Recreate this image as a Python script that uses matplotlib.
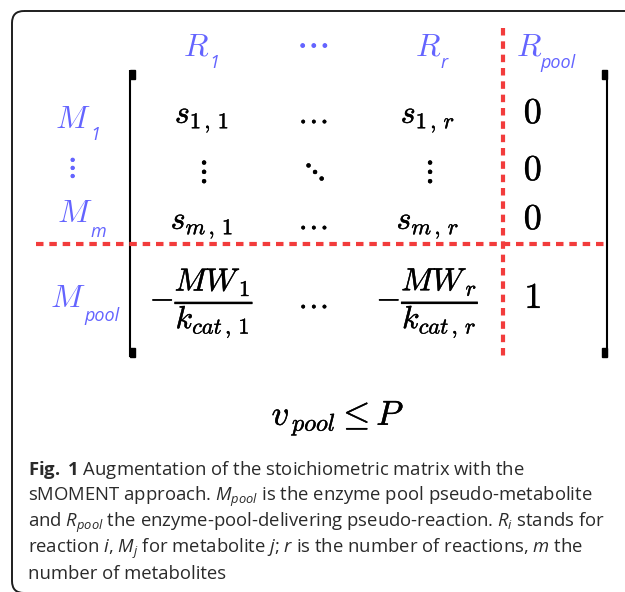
import matplotlib
matplotlib.use("Agg")
import matplotlib.pyplot as plt
import matplotlib.patheffects as pe
from matplotlib.patches import FancyBboxPatch, Rectangle

# --- content ---
col_labels = [("R", "1"), None, ("R", "r"), ("R", "pool")]
row_labels = [("M", "1"), None, ("M", "m"), ("M", "pool")]
entries = [
    [r"$s_{1\,,\,1}$", r"$\ldots$", r"$s_{1\,,\,r}$", r"$0$"],
    [r"$\vdots$", r"$\ddots$", r"$\vdots$", r"$0$"],
    [r"$s_{m\,,\,1}$", r"$\ldots$", r"$s_{m\,,\,r}$", r"$0$"],
    [r"$-\dfrac{MW_{\,1}}{k_{cat\,,\,1}}$", r"$\ldots$",
     r"$-\dfrac{MW_{\,r}}{k_{cat\,,\,r}}$", r"$1$"],
]
constraint = r"$v_{\,pool}\leq P$"
caption_lines = [
    r"$\mathbf{Fig.}$ $\mathbf{1}$ Augmentation of the stoichiometric matrix with the",
    r"sMOMENT approach. $M_{pool}$ is the enzyme pool pseudo-metabolite",
    r"and $R_{pool}$ the enzyme-pool-delivering pseudo-reaction. $R_{i}$ stands for",
    r"reaction $i$, $M_{j}$ for metabolite $j$; $r$ is the number of reactions, $m$ the",
    r"number of metabolites",
]

# --- layout (pixel coords, y down) ---
col_x = [202, 313, 428, 533]
row_base = [123, 180, 229, 308]
head_pos = [(183, 56, 209, 68), None, (415, 55, 440, 68), (516, 55, 540, 68)]
rowlab_pos = [(55, 128, 90, 140), None, (57, 222, 90, 237), (50, 307, 84, 321)]
BLUE = "#6464ff"
RED = "#f23c3c"
INK = "#1e1e1e"

plt.rcParams["mathtext.fontset"] = "custom"
plt.rcParams["mathtext.rm"] = "Open Sans"
plt.rcParams["mathtext.it"] = "Open Sans:italic"
plt.rcParams["mathtext.bf"] = "Open Sans:bold"

fig = plt.figure(figsize=(6.25, 5.92), dpi=100)
ax = fig.add_axes([0, 0, 1, 1])
ax.set_xlim(0, 625)
ax.set_ylim(592, 0)
ax.axis("off")

# frame (runs off the right and bottom edge)
ax.add_patch(FancyBboxPatch((12, 11), 640, 582, boxstyle="round,pad=0,rounding_size=12",
                            fill=False, ec=INK, lw=1.4))

# blue labels: CM italic letter + sans italic subscript
def label(lab, pos):
    base, sub = lab
    bx, by, sx, sy = pos
    ax.text(bx, by, "$%s$" % base, color=BLUE, fontsize=23, math_fontfamily="cm",
            ha="left", va="baseline")
    ax.text(sx, sy, sub, color=BLUE, fontsize=13, family="Open Sans", style="italic",
            ha="left", va="baseline")

for lab, pos in zip(col_labels, head_pos):
    if lab:
        label(lab, pos)
ax.text(col_x[1], 47, r"$\ldots$", color=BLUE, fontsize=24, math_fontfamily="cm",
        ha="center", va="baseline",
        path_effects=[pe.withStroke(linewidth=0.8, foreground=BLUE)])
for lab, pos in zip(row_labels, rowlab_pos):
    if lab:
        label(lab, pos)
ax.text(71, 175, r"$\vdots$", color=BLUE, fontsize=20, math_fontfamily="cm",
        ha="center", va="baseline",
        path_effects=[pe.withStroke(linewidth=0.6, foreground=BLUE)])

# matrix entries (slight stroke to match the heavier rendering)
heavy = [pe.withStroke(linewidth=0.3, foreground="black")]
for r, row in enumerate(entries):
    for c, s in enumerate(row):
        size = 26 if c == 3 else 23
        ax.text(col_x[c], row_base[r], s, color="black", fontsize=size, math_fontfamily="cm",
                ha="center", va="baseline", path_effects=heavy)

# brackets
for x, tx in [(130, 130), (607, 602)]:
    ax.plot([x, x], [70, 357], color="black", lw=1.5, solid_capstyle="butt")
    ax.add_patch(Rectangle((tx, 70), 5, 9, color="black"))
    ax.add_patch(Rectangle((tx, 348), 5, 9, color="black"))

# dashed partition lines
ax.plot([36, 605], [244, 244], color=RED, lw=3, dashes=(1.8, 1.4))
ax.plot([503, 503], [28, 358], color=RED, lw=3, dashes=(1.8, 1.4))

ax.text(338, 425, constraint, fontsize=25, math_fontfamily="cm", ha="center", va="baseline",
        path_effects=heavy)

for i, line in enumerate(caption_lines):
    ax.text(28, 475 + 26 * i, line, fontsize=13.3, family="Open Sans", color="#2a2a2a",
            ha="left", va="baseline")

fig.savefig("out.png", dpi=100)
